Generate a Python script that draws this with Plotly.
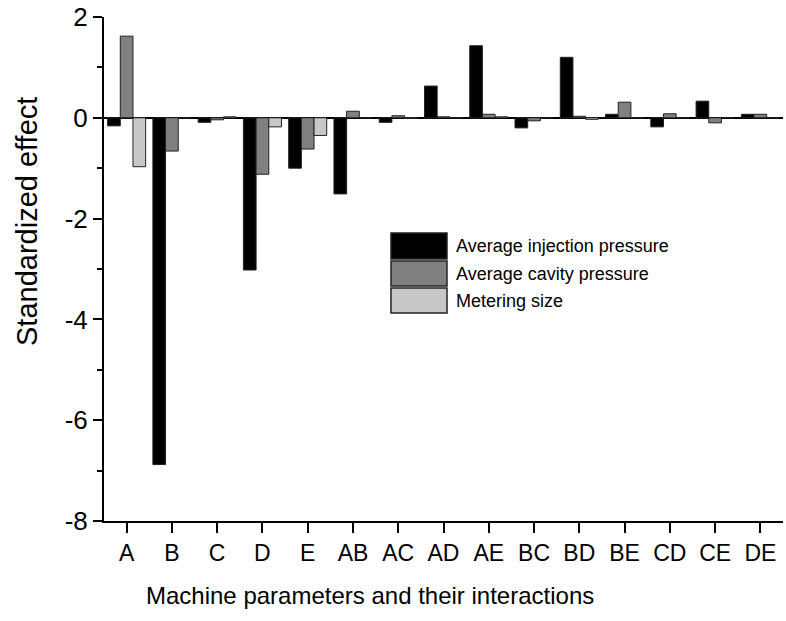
import plotly.graph_objects as go

categories = ["A", "B", "C", "D", "E", "AB", "AC", "AD", "AE", "BC", "BD", "BE", "CD", "CE", "DE"]
injection_pressure = [-0.16, -6.88, -0.09, -3.02, -1.00, -1.51, -0.09, 0.63, 1.43, -0.20, 1.20, 0.07, -0.18, 0.33, 0.07]
cavity_pressure = [1.62, -0.66, -0.04, -1.12, -0.62, 0.13, 0.04, 0.02, 0.07, -0.06, 0.03, 0.31, 0.08, -0.10, 0.07]
metering_size = [-0.97, 0.00, 0.02, -0.18, -0.35, 0.00, -0.01, 0.00, 0.02, 0.00, -0.03, 0.00, 0.00, 0.00, 0.00]
series_names = ["Average injection pressure", "Average cavity pressure", "Metering size"]
series_colors = ["#000000", "#808080", "#c8c8c8"]
y_tick_vals = [-8, -6, -4, -2, 0, 2]
y_tick_text = ["-8", "-6", "-4", "-2", "0", "2"]

FONT = "Liberation Sans, Arial, sans-serif"

W, H = 786, 621
ML, MR, MT, MB = 104, 3, 17, 100
PW, PH = W - ML - MR, H - MT - MB


def px_x(p):
    return (p - ML) / PW


def px_y(p):
    return (H - MB - p) / PH


fig = go.Figure()
for name, vals, col in zip(series_names, [injection_pressure, cavity_pressure, metering_size], series_colors):
    fig.add_trace(go.Bar(
        x=categories, y=vals, name=name, showlegend=False,
        marker=dict(color=col, line=dict(color="#222222", width=1)),
    ))

# custom legend (large swatches like the reference)
shapes = []
annotations = []
rows = [(233, 259), (261, 286), (288, 313)]
for (y0, y1), name, col in zip(rows, series_names, series_colors):
    shapes.append(dict(type="rect", xref="paper", yref="paper",
                       x0=px_x(391), x1=px_x(447), y0=px_y(y1), y1=px_y(y0),
                       fillcolor=col, line=dict(color="#222222", width=1.5)))
    annotations.append(dict(text=name, xref="paper", yref="paper",
                            x=px_x(454), y=px_y((y0 + y1) / 2), xanchor="left", yanchor="middle",
                            showarrow=False, font=dict(family=FONT, size=18, color="black")))

annotations.append(dict(text="Standardized effect", xref="paper", yref="paper",
                        x=px_x(27), y=px_y(222), xanchor="center", yanchor="middle",
                        textangle=-90, showarrow=False,
                        font=dict(family=FONT, size=29, color="black")))
annotations.append(dict(text="Machine parameters and their interactions", xref="paper", yref="paper",
                        x=px_x(370), y=px_y(595), xanchor="center", yanchor="middle",
                        showarrow=False, font=dict(family=FONT, size=24, color="black")))

fig.update_layout(
    width=W, height=H,
    margin=dict(l=ML, r=MR, t=MT, b=MB, pad=0),
    paper_bgcolor="white", plot_bgcolor="white",
    barmode="group", bargap=0.16, bargroupgap=0,
    shapes=shapes, annotations=annotations,
    showlegend=False,
    font=dict(family=FONT, color="black"),
)
fig.update_xaxes(
    type="category", showline=True, linecolor="black", linewidth=2,
    ticks="outside", ticklen=10, tickwidth=2, tickcolor="black",
    tickfont=dict(family=FONT, size=23, color="black"),
    showgrid=False, zeroline=False,
)
fig.update_yaxes(
    range=[-8, 2], showline=True, linecolor="black", linewidth=2,
    tickvals=y_tick_vals, ticktext=y_tick_text,
    ticks="outside", ticklen=9, tickwidth=2, tickcolor="black",
    tickfont=dict(family=FONT, size=26, color="black"),
    minor=dict(dtick=1, ticks="outside", ticklen=5, tickwidth=2, tickcolor="black", showgrid=False),
    showgrid=False, zeroline=True, zerolinecolor="black", zerolinewidth=2,
)

fig.write_html("out.html")
